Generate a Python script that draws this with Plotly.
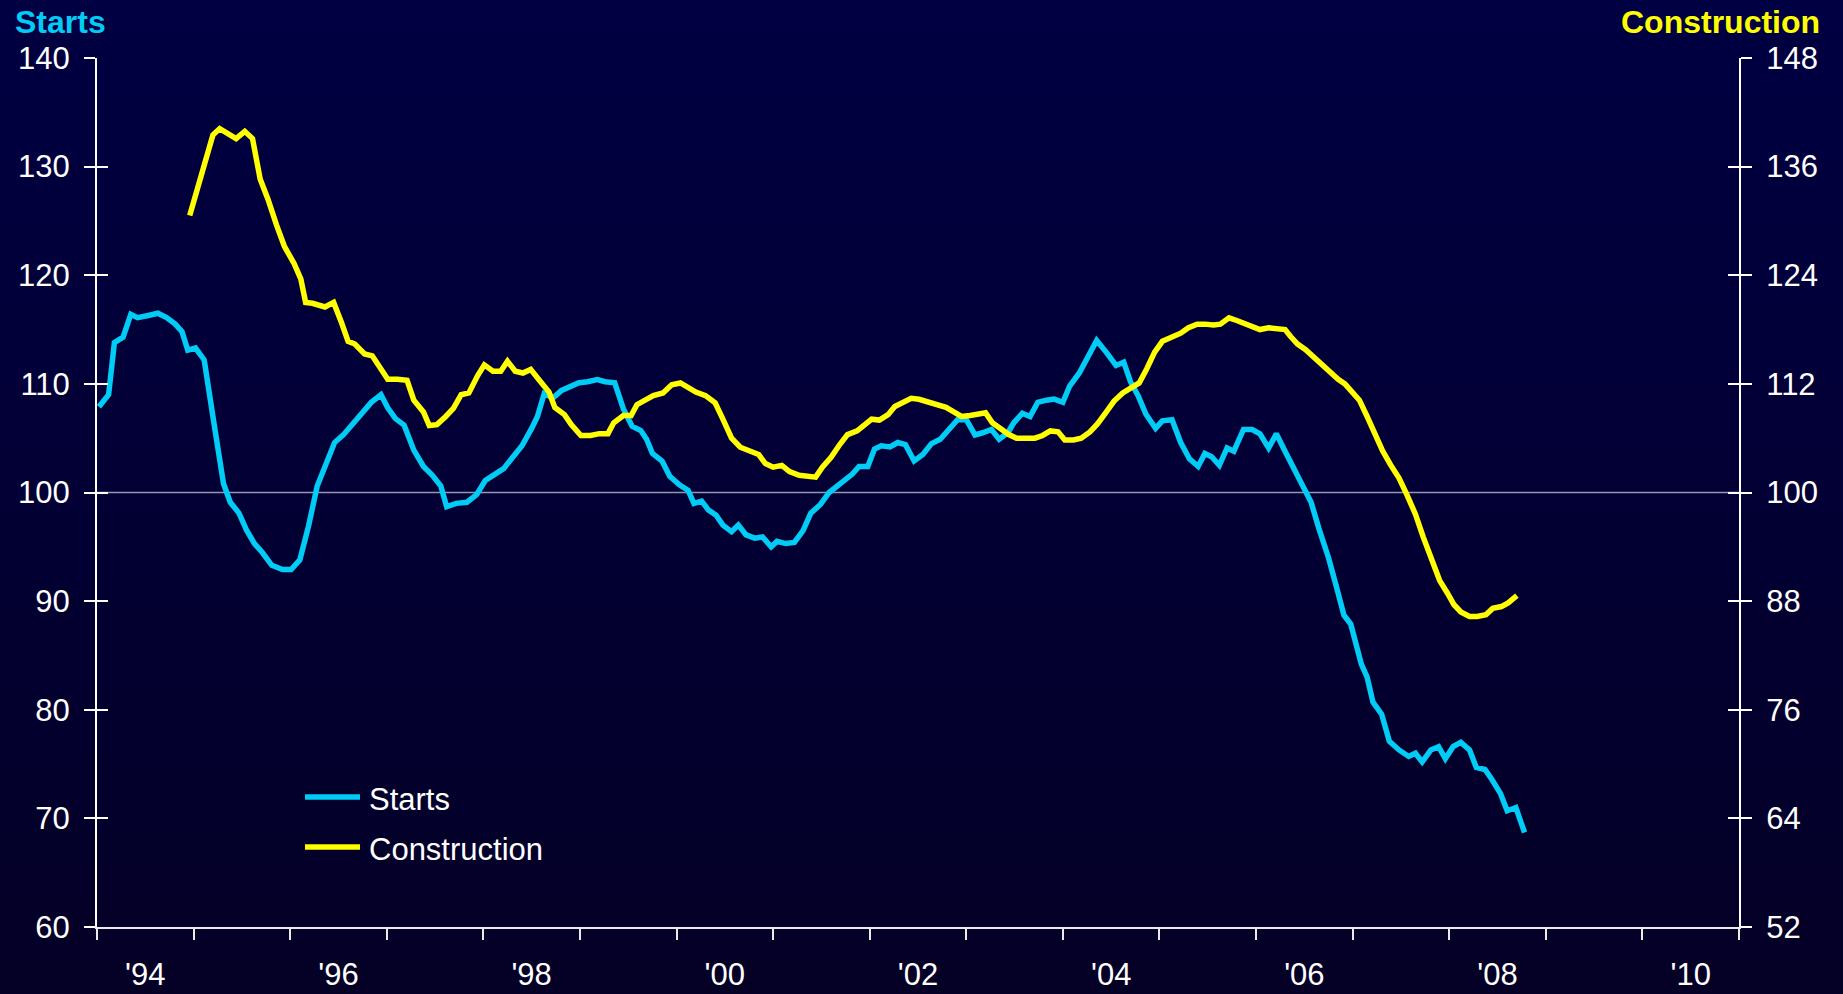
import plotly.graph_objects as go

# ---------------- data ----------------
starts_dates = [1994.02,1994.12,1994.18,1994.27,1994.35,1994.42,1994.53,1994.63,1994.72,1994.81,1994.88,1994.94,
1995.02,1995.11,1995.20,1995.31,1995.38,1995.47,1995.55,1995.63,1995.71,1995.81,1995.92,
1996.01,1996.10,1996.19,1996.28,1996.38,1996.46,1996.55,1996.65,1996.74,1996.84,1996.94,
1997.01,1997.09,1997.18,1997.28,1997.38,1997.47,1997.56,1997.62,1997.72,1997.83,1997.93,
1998.02,1998.11,1998.21,1998.30,1998.40,1998.50,1998.56,1998.63,1998.72,1998.81,1998.90,1998.99,
1999.08,1999.18,1999.26,1999.36,1999.45,1999.54,1999.63,1999.69,1999.75,1999.85,1999.93,
2000.03,2000.12,2000.18,2000.26,2000.33,2000.41,2000.48,2000.57,2000.64,2000.72,2000.81,2000.89,2000.98,
2001.04,2001.13,2001.22,2001.31,2001.39,2001.49,2001.58,2001.66,2001.73,2001.82,2001.89,2001.98,
2002.05,2002.12,2002.21,2002.29,2002.37,2002.46,2002.55,2002.64,2002.73,2002.83,2002.91,
2003.00,2003.09,2003.17,2003.26,2003.34,2003.43,2003.49,2003.58,2003.66,2003.74,2003.83,2003.91,
2004.00,2004.07,2004.17,2004.26,2004.35,2004.45,2004.55,2004.63,2004.70,2004.78,2004.86,2004.96,
2005.03,2005.13,2005.22,2005.31,2005.40,2005.47,2005.54,2005.62,2005.70,2005.77,2005.87,2005.96,
2006.04,2006.13,2006.21,2006.30,2006.38,2006.48,2006.57,2006.65,2006.75,2006.83,2006.91,2006.98,
2007.04,2007.09,2007.15,2007.21,2007.30,2007.38,2007.48,2007.58,2007.65,2007.72,2007.81,2007.89,2007.96,
2008.04,2008.12,2008.21,2008.28,2008.37,2008.44,2008.53,2008.60,2008.69,2008.78]
starts_values = [107.9,109.0,113.8,114.3,116.4,116.1,116.3,116.5,116.1,115.5,114.8,113.1,
113.3,112.2,107.0,100.8,99.1,98.1,96.5,95.3,94.5,93.3,92.9,
92.9,93.8,96.9,100.6,102.9,104.6,105.3,106.4,107.3,108.3,109.0,
107.8,106.8,106.2,103.9,102.4,101.6,100.6,98.7,99.0,99.1,99.8,
101.1,101.6,102.2,103.2,104.3,105.9,107.0,109.1,108.7,109.4,109.7,110.1,
110.2,110.4,110.2,110.1,107.7,106.1,105.7,104.9,103.6,102.9,101.5,
100.7,100.2,99.0,99.2,98.4,97.9,97.0,96.4,97.0,96.1,95.8,95.9,95.0,
95.5,95.3,95.4,96.5,98.1,98.9,100.0,100.6,101.1,101.7,102.4,102.4,
104.0,104.3,104.2,104.6,104.4,102.9,103.5,104.5,104.9,105.8,106.7,
106.7,105.3,105.5,105.8,104.9,105.5,106.4,107.3,107.0,108.3,108.5,108.6,
108.3,109.8,111.0,112.5,114.0,112.9,111.7,112.0,110.2,108.9,107.2,105.9,
106.6,106.7,104.6,103.1,102.4,103.6,103.3,102.5,104.1,103.8,105.8,105.8,
105.4,104.1,105.4,103.8,102.4,100.5,99.1,96.7,94.0,91.4,88.7,87.9,
86.1,84.2,83.0,80.7,79.6,77.1,76.3,75.7,76.0,75.2,76.3,76.6,75.5,
76.6,77.0,76.3,74.7,74.5,73.6,72.3,70.7,71.0,68.7]

construction_dates = [1994.96,1995.03,1995.11,1995.20,1995.27,1995.36,1995.44,1995.53,1995.61,1995.69,1995.77,1995.86,1995.94,
1996.04,1996.11,1996.16,1996.23,1996.36,1996.45,1996.53,1996.60,1996.67,1996.77,1996.85,1996.93,
1997.01,1997.11,1997.21,1997.28,1997.38,1997.44,1997.52,1997.61,1997.69,1997.77,1997.85,1997.94,
1998.01,1998.10,1998.18,1998.25,1998.33,1998.41,1998.49,1998.58,1998.68,1998.74,1998.84,1998.91,
1999.01,1999.11,1999.20,1999.29,1999.35,1999.45,1999.53,1999.59,1999.68,1999.76,1999.86,1999.95,
2000.04,2000.12,2000.20,2000.30,2000.40,2000.48,2000.57,2000.66,2000.75,2000.85,2000.92,
2001.00,2001.09,2001.17,2001.27,2001.37,2001.44,2001.51,2001.60,2001.69,2001.77,2001.87,2001.95,
2002.02,2002.10,2002.19,2002.26,2002.34,2002.43,2002.51,2002.60,2002.70,2002.79,2002.87,2002.95,
2003.04,2003.12,2003.20,2003.27,2003.35,2003.44,2003.52,2003.61,2003.71,2003.79,2003.87,2003.95,
2004.02,2004.11,2004.19,2004.28,2004.36,2004.45,2004.53,2004.62,2004.70,2004.79,2004.87,2004.95,
2005.03,2005.13,2005.22,2005.30,2005.39,2005.47,2005.56,2005.63,2005.72,2005.80,2005.89,2005.97,
2006.04,2006.13,2006.21,2006.30,2006.36,2006.43,2006.51,2006.60,2006.69,2006.76,2006.85,2006.92,2006.99,
2007.07,2007.15,2007.22,2007.31,2007.39,2007.48,2007.56,2007.65,2007.73,2007.82,2007.90,2007.98,
2008.05,2008.12,2008.21,2008.29,2008.38,2008.45,2008.54,2008.61,2008.70]
construction_values = [130.6,133.3,136.4,139.5,140.2,139.7,139.1,139.9,139.1,134.6,132.4,129.5,127.2,
125.3,123.6,121.0,120.9,120.5,121.0,118.8,116.7,116.4,115.3,115.1,113.8,
112.5,112.5,112.4,110.2,108.9,107.4,107.5,108.4,109.3,110.8,111.0,112.9,
114.1,113.4,113.4,114.5,113.4,113.2,113.6,112.4,111.1,109.4,108.6,107.5,
106.3,106.3,106.5,106.5,107.7,108.5,108.5,109.7,110.2,110.7,111.0,111.9,
112.1,111.6,111.1,110.7,109.9,108.1,106.0,105.0,104.6,104.2,103.2,
102.8,103.0,102.3,101.9,101.7,101.7,102.8,103.9,105.3,106.4,106.8,107.6,
108.1,108.0,108.6,109.5,110.0,110.4,110.3,110.0,109.8,109.4,108.9,108.4,
108.5,108.6,108.8,107.7,107.1,106.4,106.0,106.0,106.0,106.3,106.8,106.7,
105.8,105.8,106.0,106.7,107.6,108.9,110.1,111.0,111.5,112.1,113.7,115.5,
116.7,117.2,117.6,118.2,118.6,118.6,118.5,118.6,119.3,119.0,118.6,118.2,
118.0,118.2,118.1,118.0,117.2,116.4,115.8,114.9,114.0,113.2,112.5,112.0,111.2,
110.2,108.4,106.6,104.6,103.1,101.6,99.8,97.6,95.1,92.7,90.3,88.9,
87.6,86.8,86.3,86.3,86.5,87.2,87.4,87.8,88.6]

year_ticks = list(range(1994, 2012))
label_years = [1994, 1996, 1998, 2000, 2002, 2004, 2006, 2008, 2010]
label_text = ["'94", "'96", "'98", "'00", "'02", "'04", "'06", "'08", "'10"]

# ---------------- styling ----------------
CYAN = "rgb(0,204,245)"
YELLOW = "rgb(255,255,0)"
FONT = "Liberation Sans, Arial, sans-serif"
W, H = 1843, 994
L, R, T, B = 97, 104, 58, 67
PW, PH = W - L - R, H - T - B

def px_x(p):
    return (p - L) / PW

def px_y(p):
    return (H - B - p) / PH

fig = go.Figure()
fig.add_trace(go.Scatter(x=starts_dates, y=starts_values, mode="lines", name="Starts",
                         line=dict(color=CYAN, width=5.5), xaxis="x", yaxis="y"))
fig.add_trace(go.Scatter(x=construction_dates, y=construction_values, mode="lines", name="Construction",
                         line=dict(color=YELLOW, width=5.5), xaxis="x", yaxis="y2"))

shapes = []
# background gradient
n = 60
top = (0, 0, 66)
bot = (4, 0, 38)
y_top = px_y(0)
y_bot = px_y(H)
for i in range(n):
    f = i / (n - 1)
    c = tuple(int(round(top[k] + (bot[k] - top[k]) * f)) for k in range(3))
    y1 = y_top + (y_bot - y_top) * i / n
    y0 = y_top + (y_bot - y_top) * (i + 1) / n
    shapes.append(dict(type="rect", xref="paper", yref="paper", x0=px_x(0), x1=px_x(W),
                       y0=y0, y1=y1 + 0.002, fillcolor="rgb(%d,%d,%d)" % c, line=dict(width=0), layer="below"))
# reference line at 100
shapes.append(dict(type="line", xref="paper", yref="y", x0=0, x1=1, y0=100, y1=100,
                   line=dict(color="rgb(150,150,175)", width=1.3), layer="below"))
# legend samples
shapes.append(dict(type="line", xref="paper", yref="paper", x0=px_x(305), x1=px_x(360), y0=px_y(797), y1=px_y(797),
                   line=dict(color=CYAN, width=5.5)))
shapes.append(dict(type="line", xref="paper", yref="paper", x0=px_x(305), x1=px_x(360), y0=px_y(847), y1=px_y(847),
                   line=dict(color=YELLOW, width=5.5)))

annotations = [
    dict(text="<b>Starts</b>", xref="paper", yref="paper", x=px_x(13), y=px_y(22), xanchor="left", yanchor="middle",
         showarrow=False, font=dict(family=FONT, size=32, color=CYAN)),
    dict(text="<b>Construction</b>", xref="paper", yref="paper", x=px_x(1822), y=px_y(22), xanchor="right", yanchor="middle",
         showarrow=False, font=dict(family=FONT, size=32, color=YELLOW)),
    dict(text="Starts", xref="paper", yref="paper", x=px_x(367), y=px_y(799), xanchor="left", yanchor="middle",
         showarrow=False, font=dict(family=FONT, size=31, color="white")),
    dict(text="Construction", xref="paper", yref="paper", x=px_x(367), y=px_y(849), xanchor="left", yanchor="middle",
         showarrow=False, font=dict(family=FONT, size=31, color="white")),
]

tickfont = dict(family=FONT, size=31, color="white")
common_y = dict(showgrid=False, zeroline=False, automargin=False)

fig.update_layout(
    width=W, height=H,
    margin=dict(l=L, r=R, t=T, b=B, pad=0, autoexpand=False),
    paper_bgcolor="rgb(0,0,55)", plot_bgcolor="rgba(0,0,0,0)",
    showlegend=False,
    shapes=shapes, annotations=annotations,
    xaxis=dict(range=[1994, 2011], tickmode="array", tickvals=year_ticks, showticklabels=False,
               ticks="outside", ticklen=11, tickwidth=2, tickcolor="rgb(235,235,235)",
               showline=True, linecolor="rgb(235,235,235)", linewidth=2, showgrid=False, zeroline=False,
               automargin=False),
    xaxis2=dict(range=[1994, 2011], overlaying="x", side="bottom", tickmode="array",
                tickvals=[y + 0.5 for y in label_years], ticktext=label_text,
                ticks="", showline=False, showgrid=False, zeroline=False, automargin=False,
                tickfont=tickfont, ticklabelstandoff=26),
    yaxis=dict(range=[60, 140], dtick=10, tick0=60, ticks="outside", ticklen=11, tickwidth=2, tickcolor="white",
               showline=True, linecolor="white", linewidth=2, tickfont=tickfont, ticklabelstandoff=8, **common_y),
    yaxis3=dict(range=[60, 140], dtick=10, tick0=60, overlaying="y", side="left", ticks="inside", ticklen=11,
                tickwidth=2, tickcolor="white", showticklabels=False, showline=False, **common_y),
    yaxis2=dict(range=[52, 148], dtick=12, tick0=52, overlaying="y", side="right", ticks="outside", ticklen=11,
                tickwidth=2, tickcolor="white", showline=True, linecolor="white", linewidth=2,
                tickfont=tickfont, ticklabelstandoff=8, **common_y),
    yaxis4=dict(range=[52, 148], dtick=12, tick0=52, overlaying="y", side="right", ticks="inside", ticklen=11,
                tickwidth=2, tickcolor="white", showticklabels=False, showline=False, **common_y),
)
# invisible helper traces so the overlay axes render
fig.add_trace(go.Scatter(x=[1994], y=[60], mode="markers", marker=dict(opacity=0), xaxis="x2", yaxis="y3",
                         hoverinfo="skip", showlegend=False))
fig.add_trace(go.Scatter(x=[1994], y=[52], mode="markers", marker=dict(opacity=0), xaxis="x2", yaxis="y4",
                         hoverinfo="skip", showlegend=False))

fig.write_html("out.html")
